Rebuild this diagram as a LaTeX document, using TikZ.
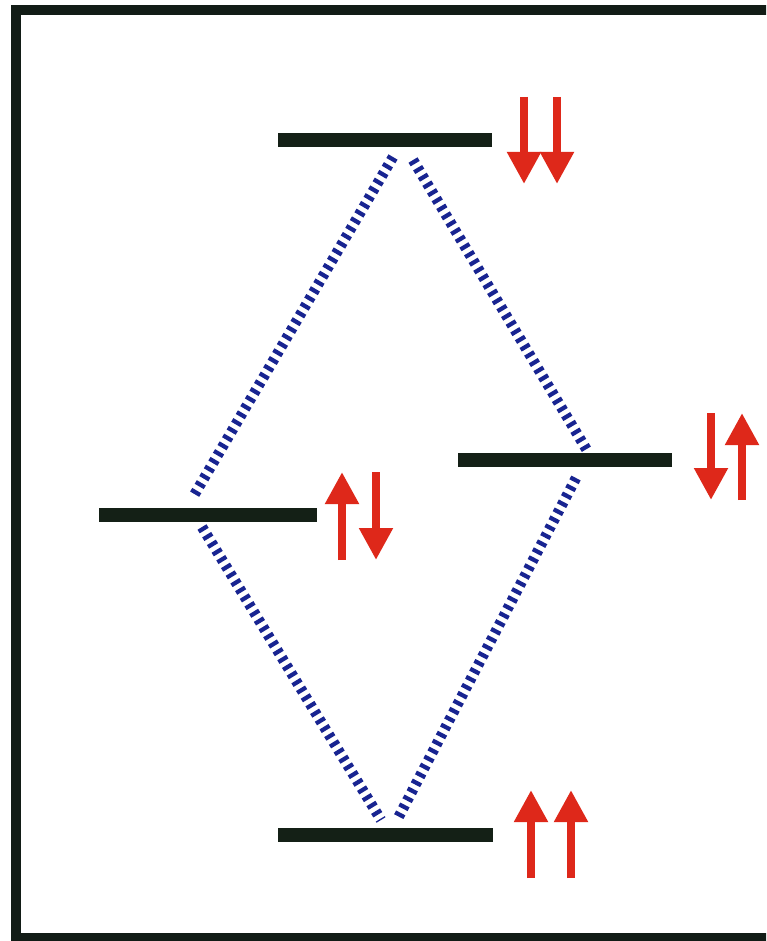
\documentclass[tikz,border=0pt]{standalone}
\usetikzlibrary{arrows.meta}
\definecolor{barcol}{RGB}{20,32,22}
\definecolor{linkcol}{RGB}{24,36,145}
\definecolor{spincol}{RGB}{222,40,26}
\definecolor{framecol}{RGB}{18,28,22}
\tikzset{
  level/.style={fill=barcol, draw=none, inner sep=0pt, minimum height=14pt},
  link/.style={draw=linkcol, line width=10.5pt, dash pattern=on 4.2pt off 4.8pt},
  spin/.style={draw=spincol, line width=8.5pt, -{Triangle[width=32pt,length=32pt]}},
}
\begin{document}
\begin{tikzpicture}[x=1pt,y=-1pt]
\useasboundingbox (0,0) rectangle (766,941);
\fill[white] (0,0) rectangle (766,941);
\begin{scope}
\clip (0,0) rectangle (766,941);
\draw[framecol, line width=10pt] (790,10) -- (16,10) -- (16,938) -- (790,938);
\end{scope}
% levels
\node[level, minimum width=214pt] (top) at (385,140) {};
\node[level, minimum width=214pt] (rmid) at (565,459.5) {};
\node[level, minimum width=218pt] (lmid) at (208,514.5) {};
\node[level, minimum width=215pt] (bot) at (385.5,835) {};
% link endpoints
\coordinate (a1) at (393,157);
\coordinate (a2) at (193,497);
\coordinate (b1) at (413,160);
\coordinate (b2) at (588,452);
\coordinate (c1) at (576,478);
\coordinate (c2) at (397,820);
\coordinate (d1) at (202,527);
\coordinate (d2) at (381,820);
\draw[link] (a1) -- (a2);
\draw[link] (b1) -- (b2);
\draw[link] (c1) -- (c2);
\draw[link] (d1) -- (d2);
% spins
\coordinate (t1s) at (524,97);  \coordinate (t1e) at (524,184);
\coordinate (t2s) at (557,97);  \coordinate (t2e) at (557,184);
\draw[spin] (t1s) -- (t1e);
\draw[spin] (t2s) -- (t2e);
\coordinate (r1s) at (711,413); \coordinate (r1e) at (711,500);
\coordinate (r2s) at (742,500); \coordinate (r2e) at (742,413);
\draw[spin] (r1s) -- (r1e);
\draw[spin] (r2s) -- (r2e);
\coordinate (l1s) at (342,560); \coordinate (l1e) at (342,472);
\coordinate (l2s) at (376,472); \coordinate (l2e) at (376,560);
\draw[spin] (l1s) -- (l1e);
\draw[spin] (l2s) -- (l2e);
\coordinate (u1s) at (531,878); \coordinate (u1e) at (531,790);
\coordinate (u2s) at (571,878); \coordinate (u2e) at (571,790);
\draw[spin] (u1s) -- (u1e);
\draw[spin] (u2s) -- (u2e);
\end{tikzpicture}
\end{document}
